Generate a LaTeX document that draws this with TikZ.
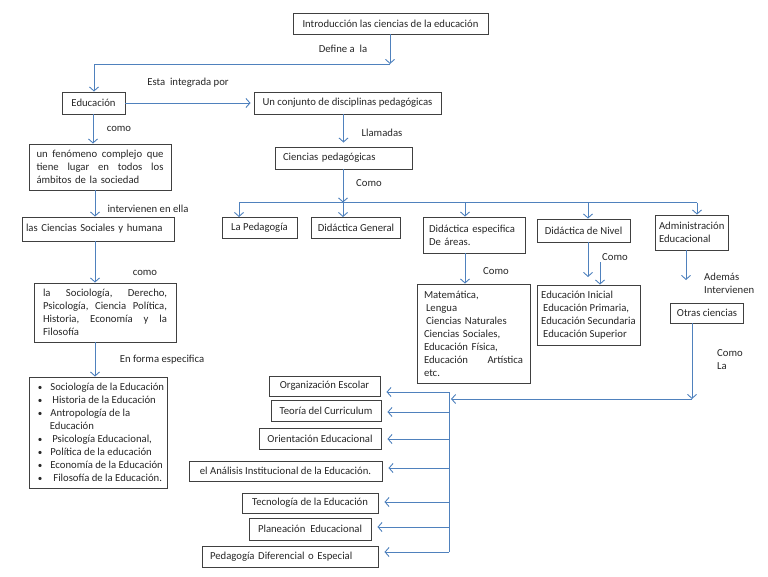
\documentclass[tikz,border=0pt]{standalone}
\usepackage{fontspec}
\setmainfont{Carlito}
\usepackage{tikz}
\usetikzlibrary{arrows.meta}
\definecolor{flecha}{RGB}{79,129,189}
\def\bul{\hspace{5pt}{\small\textbullet}\hspace{8pt}}

\begin{document}
\begin{tikzpicture}[x=1pt,y=-1pt,
    box/.style={draw=black!75, line width=0.9pt, minimum height=21pt, inner xsep=6pt, inner ysep=3pt},
    arr/.style={draw=flecha, line width=0.9pt, -{Straight Barb[length=4pt,width=9pt]}},
    lin/.style={draw=flecha, line width=0.9pt},
    lbl/.style={inner sep=1pt},
    font={\fontsize{10.7}{13}\selectfont}, text=black!85]
    \useasboundingbox (0,0) rectangle (768,576);

    % cabecera
    \node[box, minimum width=195pt] (intro) at (390.5,23.5) {Introducción las ciencias de la educación};
    \node[box, minimum width=63pt, minimum height=22pt] (edu) at (93.5,103) {Educación};
    \node[box, minimum width=187pt, minimum height=22pt] (conj) at (347.5,103) {Un conjunto de disciplinas pedagógicas};
    \node[box, text width=121pt, inner xsep=8pt, align=left, minimum height=22pt] (cped) at (343.5,158) {Ciencias pedagógicas};

    \coordinate (d1) at (390,64);
    \coordinate (d2) at (94,64);
    \draw[arr] (intro.south -| d1) -- (d1);
    \draw[arr] (d1) -- (d2) -- (edu.north -| d2);
    \node[lbl] at (343,49) {Define a\ \ la};
    \draw[arr, shorten >=3pt] (edu) -- (conj);
    \node[lbl] at (188,83) {Esta\ \ integrada por};
    \draw[arr, shorten >=4pt] (conj.south -| cped) -- (cped.north);
    \node[lbl] at (382,133) {Llamadas};

    % ciencias pedagogicas
    \node[box, minimum width=75pt] (ped) at (259.5,228) {La Pedagogía};
    \node[box, minimum width=88pt] (dgen) at (356,228) {Didáctica General};
    \node[box, text width=90pt, minimum height=36pt, align=left] (desp) at (474,235) {Didáctica especifica\\De áreas.};
    \node[box, minimum width=93pt, minimum height=23pt] (dniv) at (583.5,230.5) {Didáctica de Nivel};
    \node[box, text width=65pt, inner xsep=4pt, minimum height=35pt, align=left] (adm) at (691.5,232.5) {Administración\\Educacional};

    \coordinate (bus) at (343,202.5);
    \draw[arr] (cped.south -| bus) -- (bus);
    \node[lbl] at (369,183) {Como};
    \draw[lin] (239,202.5) -- (697,202.5);
    \foreach \x/\n in {239/ped, 343/dgen, 465/desp, 588/dniv, 697/adm}
      \draw[arr] (\x,202.5) -- (\n.north -| \x,0);

    \node[box, text width=99pt, inner xsep=7pt, minimum height=99pt, align=left] (mat) at (473.5,333.5)
      {Matemática,\\ \hspace{2pt}Lengua\\ \hspace{2pt}Ciencias Naturales\\Ciencias Sociales,\\Educación Física,\\Educación\hfill Artística\\etc.};
    \draw[arr] (desp.south -| 465,0) -- (mat.north -| 465,0);
    \node[lbl] at (496,271) {Como};

    \node[box, minimum width=103pt, inner xsep=3pt, minimum height=60pt, align=left] (inic) at (588.5,315)
      {Educación Inicial\\ \hspace{2pt}Educación Primaria,\\Educación Secundaria\\ \hspace{2pt}Educación Superior};
    \coordinate (niv) at (588,277);
    \coordinate (como) at (600,262);
    \draw[arr] (dniv.south -| niv) -- (niv);
    \draw[arr] (como) -- (inic.north -| como);
    \node[lbl] at (615,257) {Como};

    \node[box, minimum width=72pt, minimum height=20pt] (otras) at (707,313) {Otras ciencias};
    \coordinate (ad) at (686,280);
    \draw[arr] (adm.south -| ad) -- (ad);
    \node[lbl, anchor=west, align=left] at (703,283.5) {Además\\Intervienen};

    % columna izquierda
    \node[box, text width=127pt, inner xsep=7.5pt, minimum height=46pt, align=left] (fen) at (100,167)
      {un\hfill fenómeno\hfill complejo\hfill que\\tiene\hfill lugar\hfill en\hfill todos\hfill los\\ámbitos de la sociedad};
    \node[box, text width=144pt, inner xsep=4pt, minimum height=24pt, align=left] (csoc) at (98,229) {las Ciencias Sociales y humana};
    \node[box, text width=124pt, inner xsep=9pt, minimum height=59pt, align=left] (soc) at (105,312.5)
      {la\hfill Sociología,\hfill Derecho,\\Psicología,\hfill Ciencia\hfill Política,\\Historia,\hfill Economía\hfill y\hfill la\\Filosofía};
    \node[box, minimum width=137pt, minimum height=111pt, align=left, inner xsep=3pt] (list) at (98.5,432.5)
      {\bul Sociología de la Educación\\
       \bul\hspace{2pt}Historia de la Educación\\
       \bul Antropología de la\\
       \hspace{17pt}Educación\\
       \bul\hspace{2pt}Psicología Educacional,\\
       \bul Política de la educación\\
       \bul Economía de la Educación\\
       \bul\hspace{3pt}Filosofía de la Educación.};

    \draw[arr] (edu.south -| 93,0) -- (fen.north -| 93,0);
    \node[lbl] at (119,129) {como};
    \draw[arr] (fen.south -| 95,0) -- (csoc.north -| 95,0);
    \node[lbl] at (148,209) {intervienen en ella};
    \draw[arr] (csoc.south -| 95,0) -- (soc.north -| 95,0);
    \node[lbl] at (145,273) {como};
    \draw[arr] (soc.south -| 95,0) -- (list.north -| 95,0);
    \node[lbl] at (162,360) {En forma especifica};

    % otras ciencias
    \node[box, minimum width=111pt, minimum height=20pt] (org) at (324.5,386) {Organización Escolar};
    \node[box, minimum width=110pt] (teo) at (326,410.5) {Teoría del Curriculum};
    \node[box, minimum width=122pt] (ori) at (320,438.5) {Orientación Educacional};
    \node[box, minimum width=193pt, minimum height=20pt] (ana) at (285.5,471) {el Análisis Institucional de la Educación.};
    \node[box, minimum width=136pt, minimum height=20pt] (tec) at (310,503) {Tecnología de la Educación};
    \node[box, minimum width=122pt, minimum height=22pt] (pla) at (310,529) {Planeación\ \ Educacional};
    \node[box, text width=160pt, inner xsep=8pt, align=left] (pdi) at (290,556.5) {Pedagogía Diferencial o Especial};

    \coordinate (baja) at (692,399);
    \draw[arr] (otras.south -| baja) -- (baja);
    \node[lbl, anchor=west, align=left] at (716,360) {Como\\La};
    \draw[arr, shorten >=2pt] (baja) -- (449,399);
    \draw[lin] (449,392) -- (449,552);
    \foreach \y/\n in {392/org, 412/teo, 439/ori, 468/ana, 502/tec, 527/pla, 552/pdi}
      \draw[arr, shorten >=6pt] (449,\y) -- (\n.east |- 0,\y);
\end{tikzpicture}
\end{document}
